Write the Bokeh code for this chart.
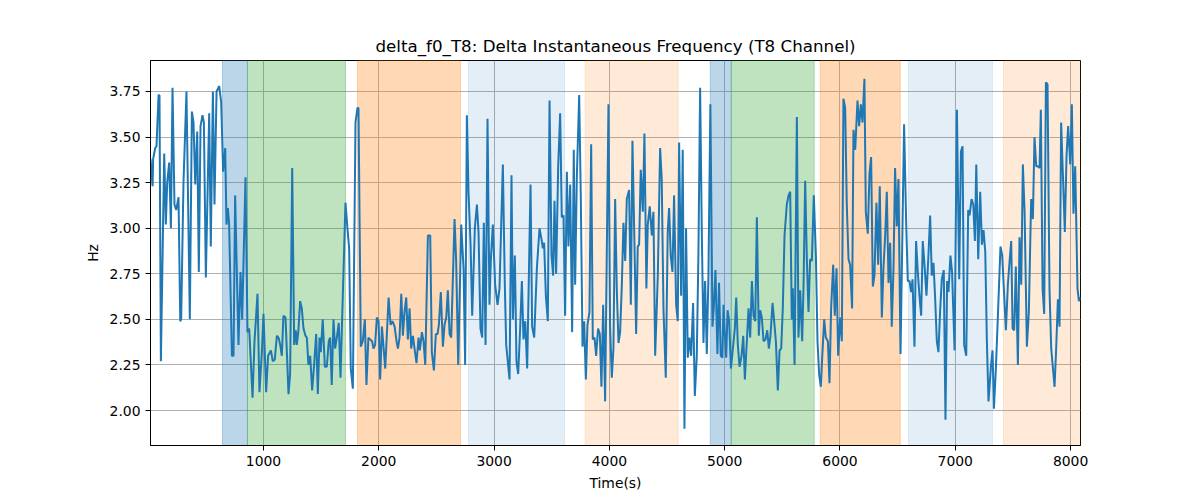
from bokeh.plotting import figure
from bokeh.models import BoxAnnotation, FixedTicker, NumeralTickFormatter, Range1d
from bokeh.embed import file_html
from bokeh.resources import INLINE

# time (s) and delta instantaneous frequency (Hz)
time_s = [
    20, 38, 43, 61, 72, 90, 98, 110, 139, 153, 165, 182, 197, 211, 228, 243, 263, 278, 286, 306,
    332, 361, 379, 393, 408, 425, 439, 454, 471, 483, 500, 529, 543, 561, 575, 593, 616, 633, 650, 668,
    679, 691, 702, 726, 740, 754, 783, 801, 815, 844, 861, 876, 905, 922, 948, 965, 986,
    1000, 1023, 1040, 1064, 1081, 1098, 1116, 1130, 1145, 1159, 1173, 1191, 1217, 1231, 1249, 1266, 1280, 1289, 1303, 1318,
    1332, 1347, 1364, 1376, 1390, 1405, 1422, 1439, 1457, 1471, 1486, 1497, 1514, 1532, 1549, 1566, 1578, 1592, 1607, 1621,
    1636, 1653, 1668, 1682, 1711, 1728, 1743, 1757, 1775, 1798, 1815, 1824, 1844, 1861, 1879, 1893, 1910, 1925, 1942, 1954,
    1968, 1983,
    1998, 2012, 2027, 2056, 2085, 2102, 2119, 2137, 2154, 2166, 2180, 2195, 2209, 2223, 2238, 2252, 2267, 2281, 2296, 2310,
    2327, 2345, 2356, 2374, 2388, 2403, 2426, 2446, 2460, 2478, 2495, 2510, 2521, 2538, 2556, 2570, 2585, 2599, 2614, 2628,
    2657, 2671, 2689, 2715, 2735, 2749, 2764, 2778, 2796, 2810, 2833, 2851, 2865, 2882, 2897, 2911, 2926, 2943, 2960, 2972,
    2989,
    3009, 3030, 3047, 3076, 3093, 3105, 3134, 3151, 3163, 3180, 3194, 3209, 3226, 3241, 3255, 3270, 3287, 3316, 3330, 3348,
    3371, 3394, 3411, 3423, 3434, 3449, 3466, 3481, 3498, 3512, 3524, 3538, 3556, 3573, 3587, 3602, 3616, 3631, 3645, 3660,
    3677, 3691, 3703, 3718, 3738, 3752, 3767, 3781, 3796, 3810, 3827, 3842, 3856, 3871, 3885, 3902, 3917, 3931, 3946, 3963,
    3992,
    4006, 4021, 4035, 4050, 4064, 4079, 4093, 4108, 4122, 4137, 4151, 4171, 4186, 4200, 4217, 4232, 4246, 4258, 4272, 4290,
    4304, 4321, 4333, 4350, 4368, 4382, 4397, 4420, 4440, 4454, 4469, 4489, 4506, 4518, 4532, 4547, 4561, 4579, 4593, 4605,
    4622, 4636, 4651, 4665, 4680, 4694, 4709, 4726, 4741, 4758, 4772, 4787, 4801, 4816, 4830, 4845, 4859, 4876, 4894, 4905,
    4920, 4937, 4951, 4966, 4980,
    4990, 4999, 5013, 5025, 5039, 5054, 5071, 5088, 5100, 5114, 5129, 5146, 5161, 5175, 5192, 5207, 5221, 5236, 5250, 5265,
    5279, 5296, 5308, 5322, 5337, 5354, 5369, 5383, 5397, 5415, 5429, 5444, 5461, 5476, 5490, 5504, 5519, 5539, 5554, 5568,
    5582, 5591, 5606, 5626, 5640, 5655, 5672, 5684, 5698, 5713, 5727, 5741, 5756, 5773, 5791, 5805, 5819, 5834, 5848, 5863,
    5877, 5895, 5909, 5923, 5941, 5955, 5970, 5984,
    6001, 6016, 6030, 6045, 6059, 6074, 6088, 6105, 6117, 6132, 6140, 6152, 6166, 6181, 6195, 6212, 6224, 6241, 6256, 6270,
    6285, 6299, 6316, 6331, 6345, 6363, 6377, 6392, 6406, 6421, 6435, 6449, 6464, 6478, 6493, 6507, 6525, 6542, 6556, 6574,
    6588, 6603, 6617, 6629, 6646, 6660, 6675, 6689, 6704, 6718, 6733, 6750, 6767, 6782, 6796, 6811, 6825, 6840, 6854, 6868,
    6883, 6900, 6915, 6929, 6941, 6958, 6972,
    6994, 7014, 7034, 7049, 7063, 7077, 7095, 7112, 7124, 7141, 7156, 7170, 7182, 7199, 7216, 7231, 7245, 7260, 7274, 7288,
    7309, 7323, 7335, 7352, 7369, 7392, 7407, 7424, 7439, 7456, 7471, 7485, 7497, 7511, 7525, 7543, 7557, 7572, 7586, 7601,
    7621, 7638, 7658, 7673, 7687, 7702, 7716, 7731, 7742, 7757, 7771, 7786, 7800, 7817, 7832, 7861, 7875, 7890, 7904, 7918,
    7933, 7950, 7965, 7979, 7997, 8011, 8025, 8040, 8060, 8072, 8086,
]
delta_f0 = [
    3.38, 3.23, 3.38, 3.44, 3.45, 3.73, 3.73, 2.27, 3.41, 3.02, 3.25, 3.36, 3.00, 3.77, 3.13, 3.10, 3.17, 2.49, 2.50, 3.25,
    3.75, 2.50, 3.64, 3.58, 3.24, 3.53, 2.76, 3.56, 3.62, 3.58, 2.73, 3.63, 2.90, 3.75, 3.13, 3.75, 3.78, 3.69, 3.31, 3.44,
    3.02, 3.11, 3.02, 2.30, 2.30, 3.18, 2.36, 2.76, 2.50, 3.28, 2.43, 2.45, 2.07, 2.38, 2.64, 2.10, 2.32,
    2.53, 2.10, 2.30, 2.33, 2.27, 2.28, 2.41, 2.40, 2.36, 2.30, 2.52, 2.51, 2.09, 2.20, 3.33, 2.36, 2.44, 2.36, 2.44, 2.60,
    2.56, 2.45, 2.41, 2.40, 2.25, 2.30, 2.11, 2.25, 2.42, 2.09, 2.40, 2.32, 2.50, 2.24, 2.24, 2.38, 2.40, 2.14, 2.50, 2.34,
    2.40, 2.48, 2.18, 2.50, 3.14, 3.00, 2.89, 2.23, 2.12, 3.58, 3.66, 3.66, 2.35, 2.38, 2.50, 2.14, 2.40, 2.39, 2.38, 2.34,
    2.36, 2.51,
    2.49, 2.17, 2.46, 2.23, 2.62, 2.47, 2.49, 2.46, 2.38, 2.34, 2.40, 2.64, 2.41, 2.54, 2.62, 2.39, 2.56, 2.34, 2.41, 2.34,
    2.26, 2.40, 2.33, 2.43, 2.38, 2.25, 2.96, 2.96, 2.32, 2.22, 2.42, 2.42, 2.47, 2.65, 2.35, 2.47, 2.51, 2.66, 2.42, 2.40,
    3.05, 2.82, 2.25, 3.02, 2.78, 2.25, 3.62, 3.20, 2.91, 2.52, 3.00, 3.13, 2.98, 2.45, 2.40, 3.03, 2.36, 3.60, 2.58, 2.83,
    3.02,
    2.69, 2.58, 2.67, 3.35, 2.69, 2.36, 2.17, 3.29, 2.50, 2.85, 2.27, 2.20, 2.45, 2.71, 2.39, 2.49, 2.23, 3.24, 2.46, 2.40,
    2.78, 3.00, 2.94, 2.89, 2.92, 2.63, 2.49, 3.70, 2.85, 2.74, 3.15, 2.75, 3.34, 3.63, 3.06, 3.07, 2.52, 3.31, 2.90, 3.24,
    2.43, 3.43, 2.69, 3.29, 3.73, 3.17, 2.35, 2.49, 2.17, 2.47, 2.54, 3.46, 2.39, 2.40, 2.30, 2.45, 2.42, 2.13, 2.58, 2.05,
    3.68,
    2.46, 2.18, 2.34, 3.16, 2.67, 2.37, 2.43, 2.69, 3.03, 2.82, 3.16, 3.21, 2.58, 3.48, 2.93, 2.42, 2.90, 2.91, 3.32, 3.09,
    3.52, 2.67, 3.02, 3.12, 2.96, 3.09, 2.30, 2.74, 3.44, 3.27, 2.56, 2.18, 2.98, 3.11, 2.85, 2.76, 3.18, 2.58, 2.49, 3.47,
    2.63, 3.43, 1.90, 3.00, 2.29, 2.40, 2.30, 2.59, 2.08, 2.30, 2.85, 3.77, 3.00, 2.37, 2.71, 2.31, 2.74, 3.68, 2.46, 2.56,
    2.77, 2.31, 2.70, 2.30, 2.29,
    2.58, 2.45, 2.29, 2.55, 2.49, 2.23, 2.34, 2.45, 2.62, 2.36, 2.24, 2.30, 2.41, 2.17, 2.38, 2.56, 2.40, 2.71, 2.52, 2.49,
    3.06, 2.41, 2.55, 2.51, 2.38, 2.39, 2.44, 2.34, 2.41, 2.59, 2.49, 2.38, 2.11, 2.33, 2.34, 2.56, 2.96, 3.13, 3.18, 3.20,
    2.50, 2.67, 2.25, 3.61, 2.40, 2.66, 2.38, 2.69, 3.26, 2.82, 2.54, 2.83, 2.82, 3.18, 2.85, 2.38, 2.20, 2.13, 2.32, 2.50,
    2.40, 2.38, 2.15, 2.56, 2.80, 2.52, 2.78, 2.30,
    2.51, 2.38, 3.71, 3.66, 3.13, 2.83, 2.80, 2.56, 3.54, 3.43, 3.54, 3.70, 3.56, 3.68, 3.58, 3.82, 3.09, 2.97, 3.30, 3.39,
    2.68, 2.74, 3.14, 2.80, 3.23, 2.51, 2.78, 2.96, 3.20, 2.70, 2.92, 2.46, 2.78, 3.33, 3.01, 3.27, 2.31, 3.00, 3.57, 3.03,
    2.71, 2.71, 2.65, 2.72, 2.35, 2.93, 2.76, 2.63, 2.52, 2.93, 2.80, 2.63, 2.85, 3.07, 2.74, 2.81, 2.62, 2.38, 2.32, 2.54,
    2.72, 2.77, 1.95, 2.71, 2.65, 2.85, 2.76,
    2.33, 3.65, 2.72, 3.42, 3.45, 2.36, 2.30, 3.10, 3.07, 3.16, 3.13, 2.93, 3.35, 2.83, 3.20, 2.91, 2.99, 2.87, 2.38, 2.05,
    2.24, 2.33, 2.01, 2.23, 2.51, 2.90, 2.85, 2.63, 2.44, 2.69, 2.82, 2.93, 2.45, 2.44, 2.79, 2.25, 2.95, 2.69, 3.35, 3.09,
    2.35, 2.54, 3.16, 3.05, 3.50, 3.34, 3.34, 3.33, 3.65, 2.67, 2.53, 3.80, 3.79, 2.67, 2.34, 2.13, 2.34, 2.61, 2.46, 3.58,
    3.30, 2.98, 3.40, 3.56, 3.35, 3.68, 3.08, 3.34, 2.67, 2.60, 2.62,
]

# shaded segments: start, end, colour, alpha
seg_start = [644, 861, 1815, 2778, 3790, 4875, 5057, 5829, 6593, 7418]
seg_end = [861, 1711, 2709, 3611, 4597, 5057, 5777, 6523, 7322, 8086]
seg_color = ["#1f77b4", "#2ca02c", "#ff7f0e", "#1f77b4", "#ff7f0e",
             "#1f77b4", "#2ca02c", "#ff7f0e", "#1f77b4", "#ff7f0e"]
seg_alpha = [0.3, 0.3, 0.3, 0.12, 0.16, 0.3, 0.3, 0.3, 0.12, 0.16]

x_ticks = [1000, 2000, 3000, 4000, 5000, 6000, 7000, 8000]
y_ticks = [2.00, 2.25, 2.50, 2.75, 3.00, 3.25, 3.50, 3.75]

FONT = "DejaVu Sans"

p = figure(
    title="delta_f0_T8: Delta Instantaneous Frequency (T8 Channel)",
    width=1192, height=492,
    frame_width=930, frame_height=385,
    min_border_left=150, min_border_right=112, min_border_top=60, min_border_bottom=47,
    x_range=Range1d(time_s[0], time_s[-1]), y_range=Range1d(1.808, 3.92),
    output_backend="svg", toolbar_location=None,
)

for s, e, c, a in zip(seg_start, seg_end, seg_color, seg_alpha):
    p.add_layout(BoxAnnotation(left=s, right=e, fill_color=c, fill_alpha=a,
                               line_color=c, line_alpha=a, level="underlay"))

p.line(time_s, delta_f0, line_color="#1f77b4", line_width=2)

# title and labels
p.title.align = "center"
p.title.text_font = FONT
p.title.text_font_size = "16.7px"
p.title.text_font_style = "normal"
p.title.text_color = "black"

p.xaxis.axis_label = "Time(s)"
p.yaxis.axis_label = "Hz"
p.xaxis.ticker = FixedTicker(ticks=x_ticks)
p.yaxis.ticker = FixedTicker(ticks=y_ticks)
p.yaxis.formatter = NumeralTickFormatter(format="0.00")

for ax in (p.xaxis, p.yaxis):
    ax.axis_label_text_font = FONT
    ax.axis_label_text_font_size = "13.9px"
    ax.axis_label_text_font_style = "normal"
    ax.axis_label_text_color = "black"
    ax.major_label_text_font = FONT
    ax.major_label_text_font_size = "13.9px"
    ax.major_label_text_color = "black"
    ax.major_tick_line_color = "black"
    ax.major_tick_out = 5
    ax.major_tick_in = 0
    ax.minor_tick_line_color = None
    ax.axis_line_color = "black"
    ax.axis_label_standoff = 6

p.grid.grid_line_color = "#b0b0b0"
p.grid.grid_line_width = 1
p.outline_line_color = "black"
p.outline_line_width = 1
p.background_fill_color = "white"
p.border_fill_color = "white"

open("out.html", "w").write(file_html(p, INLINE))
